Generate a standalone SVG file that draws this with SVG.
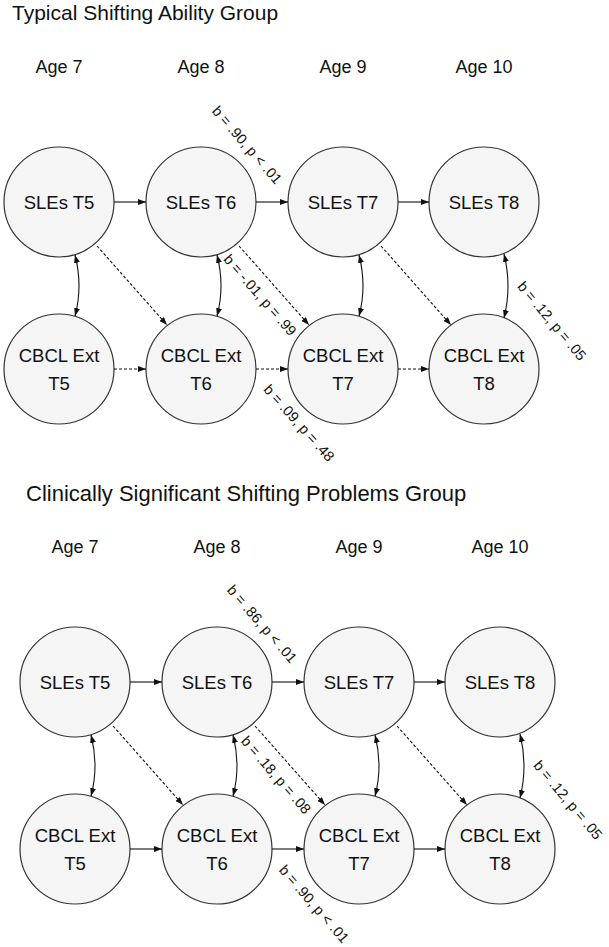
<svg xmlns="http://www.w3.org/2000/svg" width="609" height="947" viewBox="0 0 609 947">
<style>
text{font-family:"Liberation Sans",Arial,sans-serif;fill:#111}
.title{font-size:21px}
.title2{font-size:22px}
.age{font-size:18px;text-anchor:middle}
.nt{font-size:18.5px;text-anchor:middle}
.lbl{font-size:14.5px;text-anchor:middle}
circle{fill:#f5f5f5;stroke:#333;stroke-width:1.2}
.c line,.c path{stroke:#111;stroke-width:1.1;fill:none}
.s{marker-end:url(#ah)}
.d{stroke-dasharray:3 2;marker-end:url(#ah)}
.dbl{marker-start:url(#ah);marker-end:url(#ah)}
</style>
<defs>
<marker id="ah" viewBox="0 0 8 6" refX="8" refY="3" markerWidth="8" markerHeight="6" markerUnits="userSpaceOnUse" orient="auto-start-reverse">
<path d="M0,0 L8,3 L0,6 z" fill="#111"/>
</marker>
</defs>
<rect width="609" height="947" fill="#fff"/>
<!-- Top panel -->
<text class="title" x="12" y="20">Typical Shifting Ability Group</text>
<g id="ages-top">
<text class="age" x="59" y="73">Age 7</text>
<text class="age" x="201" y="73">Age 8</text>
<text class="age" x="343" y="73">Age 9</text>
<text class="age" x="484" y="73">Age 10</text>
</g>
<g id="a-sles-t5"><circle cx="59" cy="202" r="55"/><text class="nt" x="59" y="208.5">SLEs T5</text></g>
<g id="a-sles-t6"><circle cx="201" cy="202" r="55"/><text class="nt" x="201" y="208.5">SLEs T6</text></g>
<g id="a-sles-t7"><circle cx="343" cy="202" r="55"/><text class="nt" x="343" y="208.5">SLEs T7</text></g>
<g id="a-sles-t8"><circle cx="484" cy="202" r="55"/><text class="nt" x="484" y="208.5">SLEs T8</text></g>
<g id="a-cbcl-t5"><circle cx="59" cy="369" r="55"/><text class="nt" x="59" y="362">CBCL Ext</text><text class="nt" x="59" y="390">T5</text></g>
<g id="a-cbcl-t6"><circle cx="201" cy="369" r="55"/><text class="nt" x="201" y="362">CBCL Ext</text><text class="nt" x="201" y="390">T6</text></g>
<g id="a-cbcl-t7"><circle cx="343" cy="369" r="55"/><text class="nt" x="343" y="362">CBCL Ext</text><text class="nt" x="343" y="390">T7</text></g>
<g id="a-cbcl-t8"><circle cx="484" cy="369" r="55"/><text class="nt" x="484" y="362">CBCL Ext</text><text class="nt" x="484" y="390">T8</text></g>
<!-- Bottom panel -->
<text class="title2" x="26" y="501">Clinically Significant Shifting Problems Group</text>
<g id="ages-bottom">
<text class="age" x="75" y="553">Age 7</text>
<text class="age" x="217" y="553">Age 8</text>
<text class="age" x="359" y="553">Age 9</text>
<text class="age" x="500" y="553">Age 10</text>
</g>
<g id="b-sles-t5"><circle cx="75" cy="682" r="55"/><text class="nt" x="75" y="688.5">SLEs T5</text></g>
<g id="b-sles-t6"><circle cx="217" cy="682" r="55"/><text class="nt" x="217" y="688.5">SLEs T6</text></g>
<g id="b-sles-t7"><circle cx="359" cy="682" r="55"/><text class="nt" x="359" y="688.5">SLEs T7</text></g>
<g id="b-sles-t8"><circle cx="500" cy="682" r="55"/><text class="nt" x="500" y="688.5">SLEs T8</text></g>
<g id="b-cbcl-t5"><circle cx="75" cy="849" r="55"/><text class="nt" x="75" y="842">CBCL Ext</text><text class="nt" x="75" y="870">T5</text></g>
<g id="b-cbcl-t6"><circle cx="217" cy="849" r="55"/><text class="nt" x="217" y="842">CBCL Ext</text><text class="nt" x="217" y="870">T6</text></g>
<g id="b-cbcl-t7"><circle cx="359" cy="849" r="55"/><text class="nt" x="359" y="842">CBCL Ext</text><text class="nt" x="359" y="870">T7</text></g>
<g id="b-cbcl-t8"><circle cx="500" cy="849" r="55"/><text class="nt" x="500" y="842">CBCL Ext</text><text class="nt" x="500" y="870">T8</text></g>
<!-- Connectors -->
<g id="connectors" class="c">
<line class="s" x1="114" y1="202" x2="146" y2="202"/>
<line class="s" x1="256" y1="202" x2="288" y2="202"/>
<line class="s" x1="398" y1="202" x2="429" y2="202"/>
<line class="d" x1="114" y1="369" x2="146" y2="369"/>
<line class="d" x1="256" y1="369" x2="288" y2="369"/>
<line class="d" x1="398" y1="369" x2="429" y2="369"/>
<line class="d" x1="97" y1="246" x2="167" y2="325"/>
<line class="d" x1="239" y1="246" x2="309" y2="325"/>
<line class="d" x1="381" y1="246" x2="451" y2="325"/>
<path class="dbl" d="M75,255 Q83,286 75,316"/>
<path class="dbl" d="M217,255 Q225,286 217,316"/>
<path class="dbl" d="M359,255 Q367,286 359,316"/>
<path class="dbl" d="M504,254 Q512,286 504,318"/>
<line class="s" x1="130" y1="682" x2="162" y2="682"/>
<line class="s" x1="272" y1="682" x2="304" y2="682"/>
<line class="s" x1="414" y1="682" x2="445" y2="682"/>
<line class="s" x1="130" y1="849" x2="162" y2="849"/>
<line class="s" x1="272" y1="849" x2="304" y2="849"/>
<line class="s" x1="414" y1="849" x2="445" y2="849"/>
<line class="d" x1="113" y1="726" x2="183" y2="805"/>
<line class="d" x1="255" y1="726" x2="325" y2="805"/>
<line class="d" x1="397" y1="726" x2="467" y2="805"/>
<path class="dbl" d="M91,735 Q99,766 91,796"/>
<path class="dbl" d="M233,735 Q241,766 233,796"/>
<path class="dbl" d="M375,735 Q383,766 375,796"/>
<path class="dbl" d="M520,734 Q528,766 520,798"/>
</g>
<g id="labels">
<text class="lbl" transform="translate(247,145) rotate(49)" y="5">b = .90, p &lt; .01</text>
<text class="lbl" transform="translate(260,295) rotate(49)" y="5">b = -.01, p = .99</text>
<text class="lbl" transform="translate(552,321) rotate(50)" y="5">b = .12, p = .05</text>
<text class="lbl" transform="translate(299,423) rotate(48)" y="5">b = .09, p = .48</text>
<text class="lbl" transform="translate(262,624) rotate(49)" y="5">b = .86, p &lt; .01</text>
<text class="lbl" transform="translate(276,775) rotate(49)" y="5">b = .18, p = .08</text>
<text class="lbl" transform="translate(314,904) rotate(49)" y="5">b = .90, p &lt; .01</text>
<text class="lbl" transform="translate(568,800) rotate(50)" y="5">b = .12, p = .05</text>
</g>
</svg>
